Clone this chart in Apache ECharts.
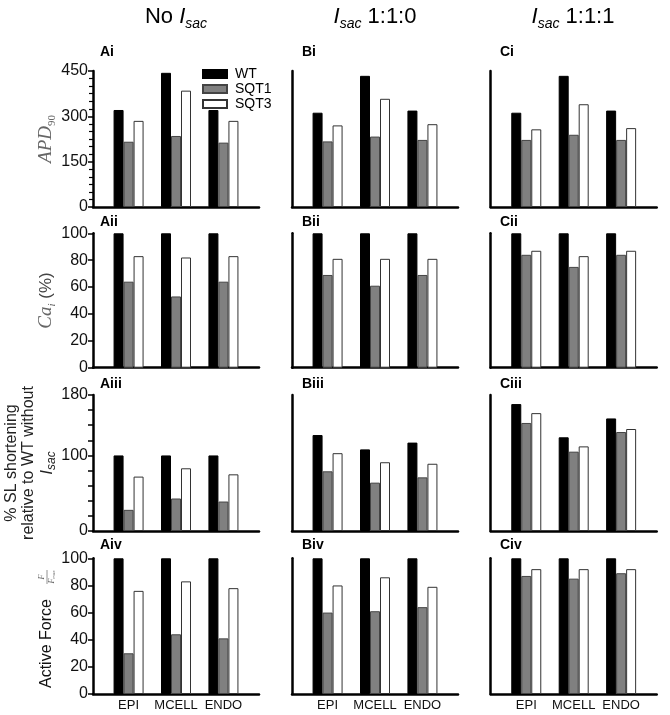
<!DOCTYPE html>
<html>
<head>
<meta charset="utf-8">
<script src="https://cdn.jsdelivr.net/npm/echarts@6/dist/echarts.min.js"></script>
<style>
html, body { margin: 0; padding: 0; background: #fff; }
#container { width: 670px; height: 715px; }
</style>
</head>
<body>
<div id="container"></div>
<script>
var categories = ['EPI', 'MCELL', 'ENDO'];
var seriesNames = ['WT', 'SQT1', 'SQT3'];
var panelLabels = [['Ai', 'Bi', 'Ci'], ['Aii', 'Bii', 'Cii'], ['Aiii', 'Biii', 'Ciii'], ['Aiv', 'Biv', 'Civ']];

// each panel: [WT, SQT1, SQT3], values for EPI, MCELL, ENDO
// APD90
var apdNoSac = [[321, 444, 321], [216, 235, 213], [285, 385, 285]];
var apdSac110 = [[312, 434, 319], [217, 233, 222], [270, 358, 274]];
var apdSac111 = [[312, 434, 319], [222, 239, 222], [257, 340, 261]];
// Ca_i (%)
var caNoSac = [[100, 100, 100], [64, 53, 64], [83, 82, 83]];
var caSac110 = [[100, 100, 100], [69, 61, 69], [81, 81, 81]];
var caSac111 = [[100, 100, 100], [84, 75, 84], [87, 83, 87]];
// % SL shortening relative to WT without Isac
var slNoSac = [[100, 100, 100], [28, 43, 39], [72, 83, 75]];
var slSac110 = [[127, 108, 117], [79, 64, 71], [103, 91, 89]];
var slSac111 = [[168, 124, 149], [143, 105, 131], [156, 112, 135]];
// Active force F/Fmax
var forceNoSac = [[100, 100, 100], [30, 44, 41], [76, 83, 78]];
var forceSac110 = [[100, 100, 100], [60, 61, 64], [80, 86, 79]];
var forceSac111 = [[100, 100, 100], [87, 85, 89], [92, 92, 92]];

var rowData = [
    [apdNoSac, apdSac110, apdSac111],
    [caNoSac, caSac110, caSac111],
    [slNoSac, slSac110, slSac111],
    [forceNoSac, forceSac110, forceSac111]
];
var yMax = [450, 100, 180, 100];
var yInterval = [150, 20, 20, 20];

var colLeft = [93, 292, 490.7];
var rowTop = [71, 233.3, 395, 558.3];
var rowHeight = [136, 134.4, 136, 135.7];
var labelY = [53, 223, 385, 546];
var labelX = [100, 302, 500];

var SANS = '"Liberation Sans", Arial, sans-serif';
var SERIF = '"Liberation Serif", "Times New Roman", serif';

var barStyles = [
    { color: '#000', borderColor: '#000', borderWidth: 1 },
    { color: '#808080', borderColor: '#444', borderWidth: 1 },
    { color: '#fff', borderColor: '#333', borderWidth: 1 }
];

// spacer categories so the groups sit inside the longer axis line
var xCats = ['', categories[0], '', categories[1], '', categories[2], ''];
function pad(a) {
    return [null, a[0], null, a[1], null, a[2], null];
}

var yNames = [
    {
        name: '{i|APD}{s|90}', gap: 32,
        style: {
            rich: {
                i: { fontFamily: SERIF, fontStyle: 'italic', fontSize: 19, color: '#666', lineHeight: 22 },
                s: { fontFamily: SERIF, fontSize: 11, color: '#666', verticalAlign: 'bottom', lineHeight: 22 }
            }
        }
    },
    {
        name: '{i|Ca}{s|i}{n| (%)}', gap: 35,
        style: {
            rich: {
                i: { fontFamily: SERIF, fontStyle: 'italic', fontSize: 19, color: '#666', lineHeight: 22 },
                s: { fontFamily: SERIF, fontStyle: 'italic', fontSize: 11, color: '#666', verticalAlign: 'bottom', lineHeight: 22 },
                n: { fontFamily: SANS, fontSize: 17, color: '#444', lineHeight: 22 }
            }
        }
    },
    {
        name: '% SL shortening\nrelative to WT without\n{i|I}{s|sac}', gap: 31,
        style: {
            fontFamily: SANS, fontSize: 16, lineHeight: 17, color: '#222',
            rich: {
                i: { fontFamily: SANS, fontStyle: 'italic', fontSize: 17, color: '#222', lineHeight: 20 },
                s: { fontFamily: SANS, fontStyle: 'italic', fontSize: 12, color: '#222', verticalAlign: 'bottom', lineHeight: 20 }
            }
        }
    },
    null
];

var grids = [], xAxes = [], yAxes = [], series = [], graphics = [];

for (var r = 0; r < 4; r++) {
    for (var c = 0; c < 3; c++) {
        var idx = grids.length;
        grids.push({ left: colLeft[c], top: rowTop[r], width: 166, height: rowHeight[r] });
        xAxes.push({
            type: 'category', gridIndex: idx, data: xCats,
            axisLine: { lineStyle: { color: '#000', width: 2.5 } },
            axisTick: { show: false },
            axisLabel: { show: r === 3, interval: 0, margin: 5, fontSize: 13, color: '#111', fontFamily: SANS }
        });
        var yAx = {
            type: 'value', gridIndex: idx, min: 0, max: yMax[r], interval: yInterval[r],
            splitLine: { show: false },
            axisLine: { show: true, lineStyle: { color: '#000', width: 2.5 } },
            axisTick: { show: c === 0, length: 5, lineStyle: { color: '#000', width: 1.5 } },
            axisLabel: {
                show: c === 0, margin: 5, fontSize: 16, color: '#111', fontFamily: SANS,
                formatter: r === 2 ? function (v) { return (v === 0 || v === 100 || v === 180) ? v : ''; } : null
            }
        };
        if (r === 0 && c === 0) {
            yAx.minorTick = { show: true, splitNumber: 6, length: 4, lineStyle: { color: '#000', width: 1.2 } };
        }
        if (c === 0 && yNames[r]) {
            yAx.name = yNames[r].name;
            yAx.nameLocation = 'middle';
            yAx.nameGap = yNames[r].gap;
            yAx.nameTextStyle = yNames[r].style;
        }
        yAxes.push(yAx);
        for (var s = 0; s < 3; s++) {
            series.push({
                type: 'bar', name: seriesNames[s], xAxisIndex: idx, yAxisIndex: idx,
                data: pad(rowData[r][c][s]), barWidth: 10, barGap: '0%',
                itemStyle: barStyles[s], animation: false
            });
        }
        graphics.push({
            type: 'text', left: labelX[c], top: labelY[r] - 8,
            style: { text: panelLabels[r][c], font: 'bold 14px ' + SANS, fill: '#000' }
        });
    }
}

var titleRich = {
    n: { fontFamily: SANS, fontSize: 22, color: '#000', lineHeight: 28 },
    i: { fontFamily: SANS, fontStyle: 'italic', fontSize: 22, color: '#000', lineHeight: 28 },
    s: { fontFamily: SANS, fontStyle: 'italic', fontSize: 14, color: '#000', verticalAlign: 'bottom', lineHeight: 28 }
};
var colTitles = ['{n|No }{i|I}{s|sac}', '{i|I}{s|sac}{n| 1:1:0}', '{i|I}{s|sac}{n| 1:1:1}'];
var colTitleX = [176, 375, 573];
for (var t = 0; t < 3; t++) {
    graphics.push({
        type: 'text', x: colTitleX[t], y: 17,
        style: { text: colTitles[t], rich: titleRich, align: 'center', verticalAlign: 'middle' }
    });
}

// Active Force F/Fmax label, rotated to read upward
graphics.push({
    type: 'group', x: 47, y: 632, rotation: Math.PI / 2,
    children: [
        { type: 'text', style: { x: -56, y: 0, text: 'Active Force', font: '16px ' + SANS, fill: '#111', align: 'left', verticalAlign: 'middle' } },
        { type: 'text', style: { x: 55, y: -5, text: 'F', font: 'italic 8px ' + SERIF, fill: '#666', align: 'center', verticalAlign: 'middle' } },
        { type: 'line', shape: { x1: 48, y1: 0, x2: 62, y2: 0 }, style: { stroke: '#777', lineWidth: 0.8 } },
        {
            type: 'text',
            style: {
                x: 55, y: 5, text: '{i|F}{s|max}', align: 'center', verticalAlign: 'middle',
                rich: {
                    i: { fontFamily: SERIF, fontStyle: 'italic', fontSize: 8, fill: '#666', lineHeight: 9 },
                    s: { fontFamily: SERIF, fontStyle: 'italic', fontSize: 5, fill: '#666', verticalAlign: 'bottom', lineHeight: 9 }
                }
            }
        }
    ]
});

var myChart = echarts.init(document.getElementById('container'));
var option = {
    backgroundColor: '#fff',
    animation: false,
    legend: {
        data: seriesNames, orient: 'vertical', left: 197, top: 62,
        itemWidth: 24, itemHeight: 8, itemGap: 1, icon: 'rect',
        textStyle: { fontSize: 14, lineHeight: 12, color: '#000', fontFamily: SANS, padding: [0, 0, 0, 3] }
    },
    grid: grids,
    xAxis: xAxes,
    yAxis: yAxes,
    series: series,
    graphic: graphics
};
myChart.setOption(option, true);
</script>
</body>
</html>
